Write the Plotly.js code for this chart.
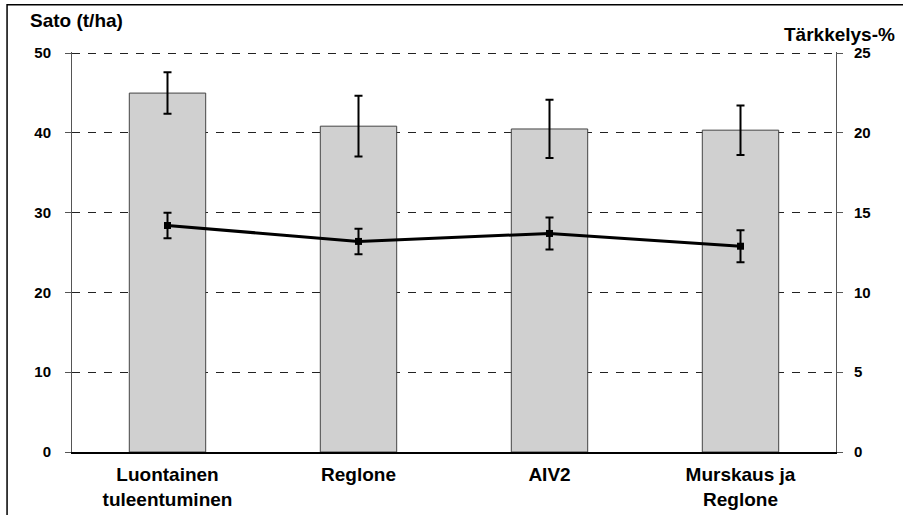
<!DOCTYPE html>
<html><head><meta charset="utf-8">
<script src="https://cdn.plot.ly/plotly-3.0.1.min.js"></script>
<style>body{margin:0;background:#fff}#c{width:903px;height:515px}</style>
</head><body><div id="c"></div>
<script>
const categories = ["Luontainen<br>tuleentuminen", "Reglone", "AIV2", "Murskaus ja<br>Reglone"];
const yieldValues = [45.0, 40.85, 40.5, 40.35];
const yieldErrors = [2.6, 3.8, 3.65, 3.1];
const starchValues = [14.2, 13.2, 13.7, 12.9];
const starchErrors = [0.8, 0.8, 1.0, 1.0];
const leftTicks = [0, 10, 20, 30, 40, 50];
const rightTicks = [0, 5, 10, 15, 20, 25];

const fam = "Liberation Sans, Arial, sans-serif";
const tickFont = {family: fam, size: 15, color: "#000", weight: 700};
const bigFont = {family: fam, size: 19, color: "#000", weight: 700};

const traces = [
  {type: "bar", x: categories, y: yieldValues, width: 0.4, yaxis: "y",
   marker: {color: "#d0d0d0", line: {color: "#444", width: 1}},
   error_y: {type: "data", array: yieldErrors, visible: true, color: "#000", thickness: 2, width: 4},
   hoverinfo: "none"},
  {type: "scatter", mode: "lines+markers", x: categories, y: starchValues, yaxis: "y2",
   line: {color: "#000", width: 3}, marker: {symbol: "square", size: 7, color: "#000"},
   error_y: {type: "data", array: starchErrors, visible: true, color: "#000", thickness: 2, width: 4},
   hoverinfo: "none"}
];

const layout = {
  width: 903, height: 515,
  margin: {l: 72, r: 67, t: 52, b: 63},
  paper_bgcolor: "#fff", plot_bgcolor: "#fff",
  showlegend: false,
  font: tickFont,
  xaxis: {type: "category", showline: true, linecolor: "#000", linewidth: 2,
          ticks: "", tickfont: bigFont, showgrid: false, zeroline: false, ticklabelstandoff: 4},
  yaxis: {range: [0, 50.15], tickvals: leftTicks, ticks: "outside", ticklen: 6, tickcolor: "#555",
          showline: true, linecolor: "#555", linewidth: 1,
          showgrid: true, gridcolor: "#222", gridwidth: 1, griddash: "8px,8px",
          zeroline: false, tickfont: tickFont, ticklabelstandoff: 11},
  yaxis2: {range: [0, 25.075], tickvals: rightTicks, overlaying: "y", side: "right",
           ticks: "outside", ticklen: 6, tickcolor: "#555",
           showline: true, linecolor: "#555", linewidth: 1, showgrid: false, zeroline: false,
           tickfont: tickFont, ticklabelstandoff: 8},
  annotations: [
    {text: "Sato (t/ha)", xref: "paper", yref: "paper", x: -0.057, y: 1.078,
     xanchor: "left", yanchor: "middle", showarrow: false, font: bigFont},
    {text: "Tärkkelys-%", xref: "paper", yref: "paper", x: 1.08, y: 1.045,
     xanchor: "right", yanchor: "middle", showarrow: false, font: bigFont}
  ],
  shapes: [
    {type: "rect", xref: "paper", yref: "paper", x0: -0.085, x1: 1.1, y0: -0.17, y1: 1.118,
     line: {color: "#000", width: 1.5}, fillcolor: "rgba(0,0,0,0)", layer: "below"}
  ]
};

Plotly.newPlot("c", traces, layout, {displayModeBar: false, staticPlot: true});
</script></body></html>
